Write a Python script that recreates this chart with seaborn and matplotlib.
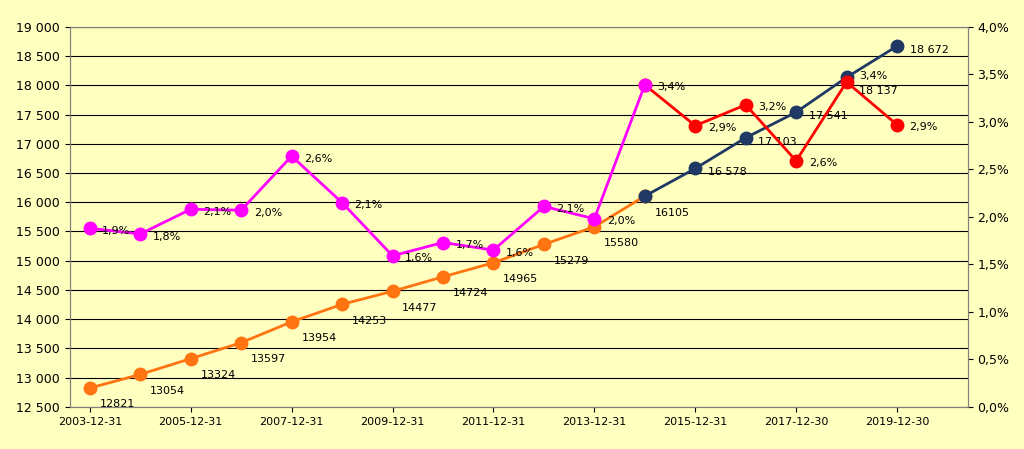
import matplotlib
matplotlib.use("Agg")
import matplotlib.pyplot as plt
import seaborn as sns
import pandas as pd

years_a = list(range(2003, 2015))
wage_a = [12821, 13054, 13324, 13597, 13954, 14253, 14477, 14724, 14965, 15279, 15580, 16105]
years_b = list(range(2014, 2020))
wage_b = [16105, 16578, 17103, 17541, 18137, 18672]
wage_b_labels = ["", "16 578", "17 103", "17 541", "18 137", "18 672"]
pct_a = [1.88, 1.82, 2.08, 2.07, 2.64, 2.15, 1.59, 1.73, 1.65, 2.11, 1.98, 3.39]
pct_a_labels = ["1,9%", "1,8%", "2,1%", "2,0%", "2,6%", "2,1%", "1,6%", "1,7%", "1,6%", "2,1%", "2,0%", "3,4%"]
years_c = list(range(2014, 2020))
pct_c = [3.39, 2.96, 3.18, 2.59, 3.42, 2.97]
pct_c_labels = ["", "2,9%", "3,2%", "2,6%", "3,4%", "2,9%"]
tick_years = [2003, 2005, 2007, 2009, 2011, 2013, 2015, 2017, 2019]
tick_labels = ["2003-12-31", "2005-12-31", "2007-12-31", "2009-12-31", "2011-12-31",
               "2013-12-31", "2015-12-31", "2017-12-30", "2019-12-30"]

bg = "#FFFFC0"
fig = plt.figure(figsize=(10.24, 4.49), dpi=100, facecolor=bg)
ax = fig.add_axes([0.068, 0.094, 0.877, 0.846], facecolor=bg)
ax2 = ax.twinx()

mk = dict(marker="o", markersize=10, linewidth=2, markeredgewidth=0)
sns.lineplot(x=years_a, y=wage_a, ax=ax, color="#FF7410", **mk)
sns.lineplot(x=years_b, y=wage_b, ax=ax, color="#1F3864", **mk)
sns.lineplot(x=years_c, y=pct_c, ax=ax2, color="#FF0000", **mk)
sns.lineplot(x=years_a, y=pct_a, ax=ax2, color="#FF00FF", **mk)

for x, y in zip(years_a, wage_a):
    ax.annotate(str(y), (x, y), xytext=(7, -14), textcoords="offset points", fontsize=8)
for x, y, t in zip(years_b, wage_b, wage_b_labels):
    dy = -12 if t == "18 137" else -5
    ax.annotate(t, (x, y), xytext=(9, dy), textcoords="offset points", fontsize=8)
for x, y, t in zip(years_a, pct_a, pct_a_labels):
    ax2.annotate(t, (x, y), xytext=(9, -4), textcoords="offset points", fontsize=8)
for x, y, t in zip(years_c, pct_c, pct_c_labels):
    dy = 2 if t == "3,4%" else -4
    ax2.annotate(t, (x, y), xytext=(9, dy), textcoords="offset points", fontsize=8)

ax.set_xlim(2002.6, 2020.4)
ax.set_ylim(12500, 19000)
ax.set_yticks(range(12500, 19001, 500))
ax.set_yticklabels([f"{v:,}".replace(",", " ") for v in range(12500, 19001, 500)], fontsize=9)
ax2.set_ylim(0, 4)
ax2.set_yticks([i * 0.5 for i in range(9)])
ax2.set_yticklabels([f"{i*0.5:.1f}%".replace(".", ",") for i in range(9)], fontsize=9)
ax.set_xticks(tick_years)
ax.set_xticklabels(tick_labels, fontsize=8)
ax.grid(axis="y", color="black", linewidth=0.8)
ax.set_axisbelow(True)
for a in (ax, ax2):
    for s in a.spines.values():
        s.set_color("gray")

fig.savefig("out.png", facecolor=bg)
